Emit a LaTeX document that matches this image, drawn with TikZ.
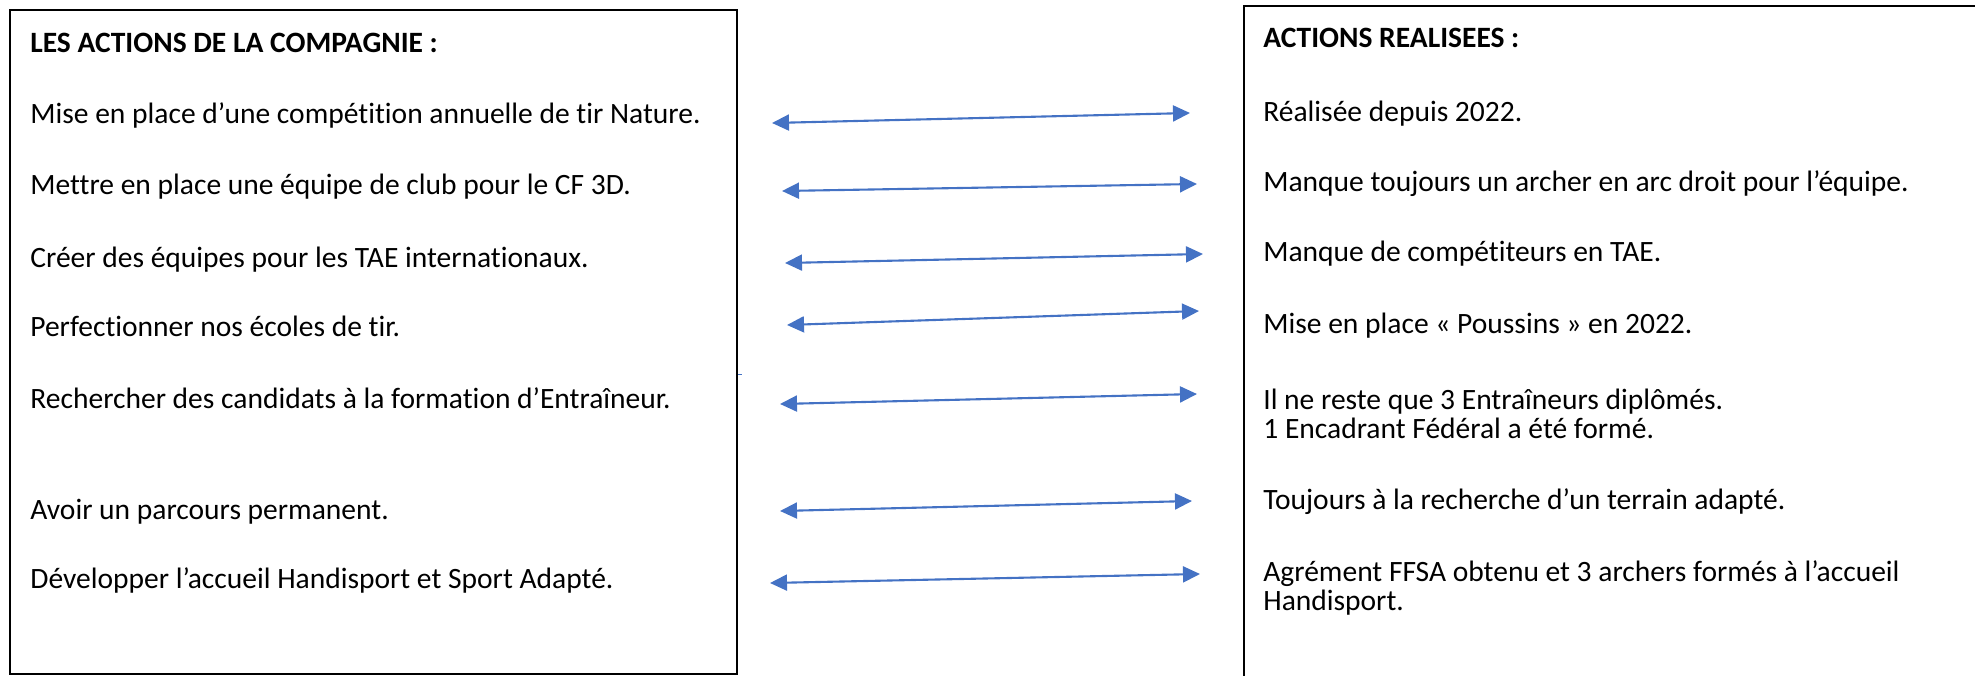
\documentclass[tikz,border=0pt]{standalone}
\usepackage{fontspec}
\setmainfont{Carlito}[Ligatures=NoCommon]
\usetikzlibrary{arrows.meta, positioning}
\definecolor{linkblue}{HTML}{4472C4}

\begin{document}
\begin{tikzpicture}[
    x=0.02cm, y=-0.02cm,
    % Styles
    frame/.style={draw=black, line width=1.2pt},
    item/.style={anchor=base west, inner sep=0pt, align=left, font=\fontsize{16.8}{16.5}\selectfont},
    heading/.style={item, font=\fontsize{16.8}{16.5}\selectfont\bfseries},
    link/.style={draw=linkblue, line width=1.2pt, {Triangle[length=0.34cm, width=0.32cm]}-{Triangle[length=0.34cm, width=0.32cm]}},
  ]
  \useasboundingbox (0,0) rectangle (1975,676);

  % 1) Frames
  \draw[frame] (10,674) -- (10,10) -- (737,10) -- (737,674) -- cycle;
  \draw[frame, line width=0.9pt] (1244,700) -- (1244,6) -- (2000,6);

  % 2) Left column: actions of the company
  \node[heading] (lhead) at (30,52) {LES ACTIONS DE LA COMPAGNIE :};
  \node[item] (l1) at (30,123) {Mise en place d’une compétition annuelle de tir Nature.};
  \node[item] (l2) at (30,194) {Mettre en place une équipe de club pour le CF 3D.};
  \node[item] (l3) at (30,267) {Créer des équipes pour les TAE internationaux.};
  \node[item] (l4) at (30,336) {Perfectionner nos écoles de tir.};
  \node[item] (l5) at (30,408) {Rechercher des candidats à la formation d’Entraîneur.};
  \node[item] (l6) at (30,519) {Avoir un parcours permanent.};
  \node[item] (l7) at (30,588) {Développer l’accueil Handisport et Sport Adapté.};

  % 3) Right column: actions carried out
  \node[heading] (rhead) at (1263,48) {ACTIONS REALISEES :};
  \node[item] (r1) at (1263,121) {Réalisée depuis 2022.};
  \node[item] (r2) at (1263,191) {Manque toujours un archer en arc droit pour l’équipe.};
  \node[item] (r3) at (1263,261) {Manque de compétiteurs en TAE.};
  \node[item] (r4) at (1263,333) {Mise en place « Poussins » en 2022.};
  \node[item] (r5) at (1263,438) {Il ne reste que 3 Entraîneurs diplômés.\\1 Encadrant Fédéral a été formé.};
  \node[item] (r6) at (1263,509) {Toujours à la recherche d’un terrain adapté.};
  \node[item] (r7) at (1263,610) {Agrément FFSA obtenu et 3 archers formés à l’accueil\\Handisport.};

  % 4) Arrow ends
  \coordinate (a1w) at (772,123);  \coordinate (a1e) at (1190,113);
  \coordinate (a2w) at (782,191);  \coordinate (a2e) at (1197,184);
  \coordinate (a3w) at (785,263);  \coordinate (a3e) at (1203,254);
  \coordinate (a4w) at (787,325);  \coordinate (a4e) at (1199,311);
  \coordinate (a5w) at (780,404);  \coordinate (a5e) at (1197,394);
  \coordinate (a6w) at (780,511);  \coordinate (a6e) at (1192,501);
  \coordinate (a7w) at (770,583);  \coordinate (a7e) at (1200,574);

  % 5) Double arrows
  \draw[link] (a1w) -- (a1e);
  \draw[link] (a2w) -- (a2e);
  \draw[link] (a3w) -- (a3e);
  \draw[link] (a4w) -- (a4e);
  \draw[link] (a5w) -- (a5e);
  \draw[link] (a6w) -- (a6e);
  \draw[link] (a7w) -- (a7e);

  % 6) Small stray tick
  \coordinate (tk) at (738,374);
  \draw[linkblue, line width=0.5pt] (tk) -- ++(4,0);
\end{tikzpicture}
\end{document}
